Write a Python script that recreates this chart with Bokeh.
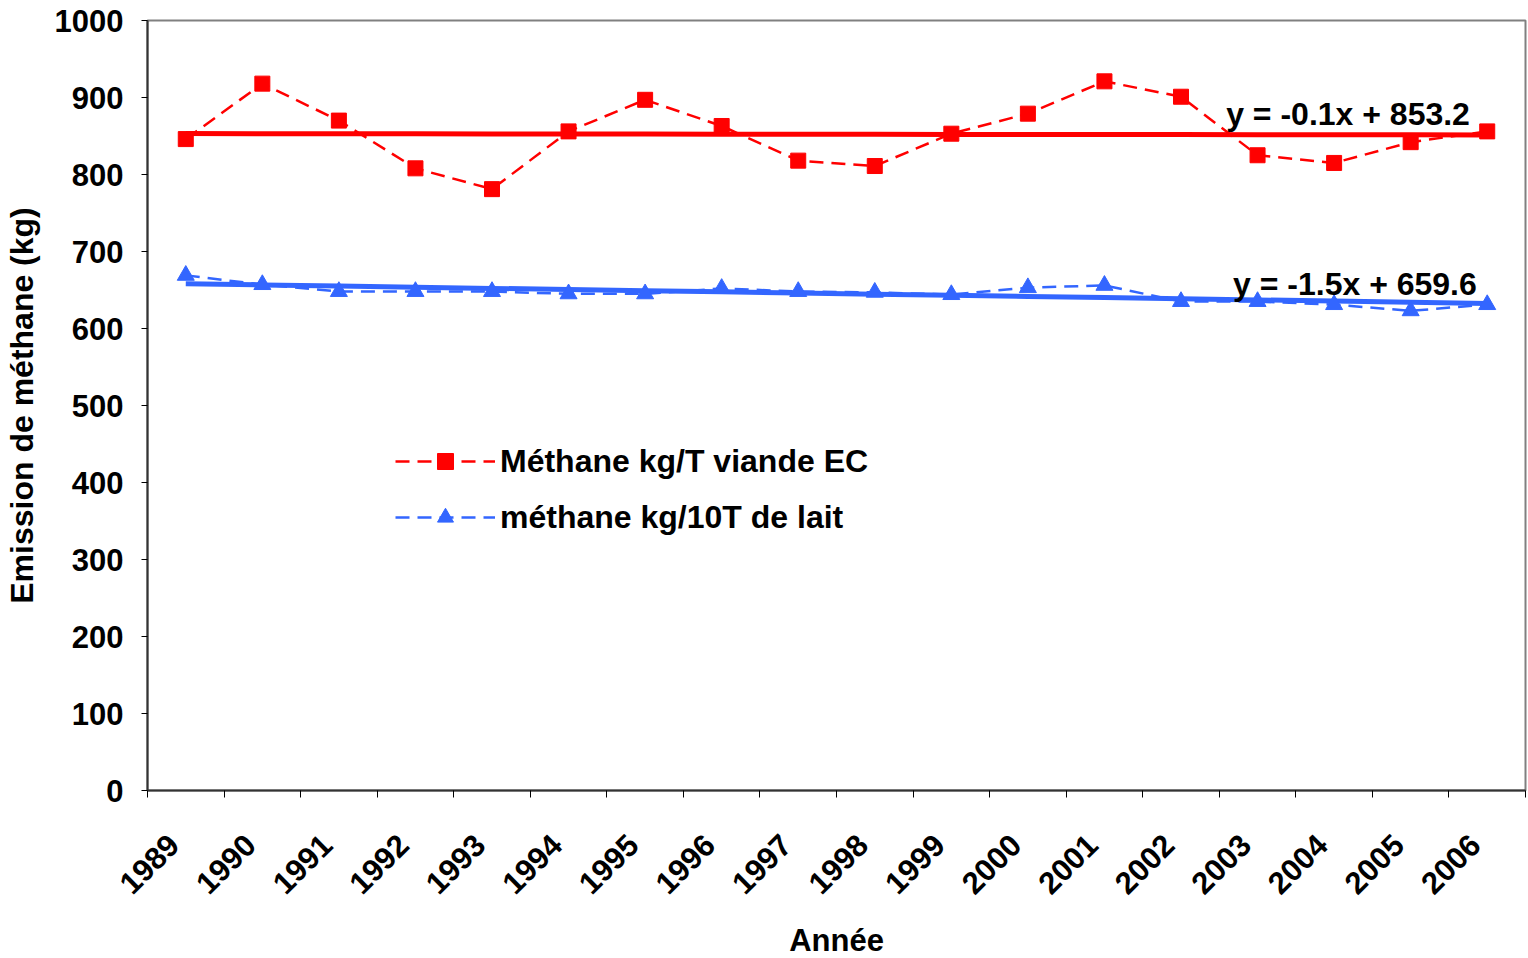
import math
from bokeh.plotting import figure
from bokeh.models import Range1d, FixedTicker, Legend, LegendItem
from bokeh.core.properties import value
from bokeh.embed import file_html
from bokeh.resources import INLINE

# ---- data ----
years = [str(y) for y in range(1989, 2007)]
viande = [846, 918, 870, 808, 781, 856, 897, 863, 818, 811, 853, 879, 921, 901, 825, 815, 842, 856]
lait = [669, 657, 648, 648, 648, 645, 645, 652, 648, 647, 644, 653, 656, 635, 635, 631, 623, 631]
trend_slope = [-0.1, -1.5]
trend_intercept = [853.2, 659.6]
trend_labels = ["y = -0.1x + 853.2", "y = -1.5x + 659.6"]
series_names = ["Méthane kg/T viande EC", "méthane kg/10T de lait"]
y_ticks = list(range(0, 1001, 100))

FONT = "Liberation Sans"
RED = "#FF0000"
BLUE = "#3366FF"

n = len(years)
xs = [i + 0.5 for i in range(n)]
label_pos = [i + 0.34 for i in range(n)]  # rotated label anchors (slightly left of centre)
trend_viande = [trend_slope[0] * (i + 1) + trend_intercept[0] for i in range(n)]
trend_lait = [trend_slope[1] * (i + 1) + trend_intercept[1] for i in range(n)]

p = figure(frame_width=1378, frame_height=770,
           min_border_left=147, min_border_right=3, min_border_top=20, min_border_bottom=168,
           x_range=Range1d(0, n), y_range=Range1d(0, 1000),
           output_backend="svg", toolbar_location=None)
p.background_fill_color = "white"
p.border_fill_color = "white"
p.outline_line_color = "#808080"
p.outline_line_width = 2
p.xgrid.visible = False
p.ygrid.visible = False

# data series
r_line = p.line(xs, viande, line_color=RED, line_width=2.5, line_dash="14 8")
b_line = p.line(xs, lait, line_color=BLUE, line_width=2.5, line_dash="14 8")
# trend lines
p.line(xs, trend_viande, line_color=RED, line_width=5)
p.line(xs, trend_lait, line_color=BLUE, line_width=5)
# markers
r_sc = p.scatter(xs, viande, marker="square", size=15, fill_color=RED, line_color=RED)
b_sc = p.scatter(xs, lait, marker="triangle", size=17, fill_color=BLUE, line_color=BLUE)

# trend equations
p.text(x=[14.09, 14.18], y=[879, 658], text=trend_labels,
       text_font=value(FONT), text_font_style="bold", text_font_size="32px",
       text_color="black", text_align="left", text_baseline="middle")

# axes
xa = p.xaxis[0]
xa.ticker = FixedTicker(ticks=label_pos, minor_ticks=list(range(n + 1)))
xa.major_label_overrides = {x: y for x, y in zip(label_pos, years)}
xa.major_label_orientation = math.pi / 4
xa.major_tick_out = 0
xa.major_tick_in = 0
xa.minor_tick_out = 7
xa.minor_tick_in = 0
xa.minor_tick_line_color = "black"
xa.minor_tick_line_width = 1
xa.major_label_standoff = 42
xa.axis_label = "Année"
xa.axis_label_standoff = 16

ya = p.yaxis[0]
ya.ticker = FixedTicker(ticks=y_ticks, minor_ticks=[])
ya.major_tick_out = 6
ya.major_tick_in = 0
ya.major_tick_line_color = "black"
ya.major_label_standoff = 18
ya.axis_label = "Emission de méthane (kg)"
ya.axis_label_standoff = 12

for ax in (xa, ya):
    ax.axis_line_color = "#333333"
    ax.axis_line_width = 2
    ax.major_label_text_font = FONT
    ax.major_label_text_font_style = "bold"
    ax.major_label_text_font_size = "31px"
    ax.major_label_text_color = "black"
    ax.axis_label_text_font = FONT
    ax.axis_label_text_font_style = "bold"
    ax.axis_label_text_color = "black"
xa.axis_label_text_font_size = "31px"
ya.axis_label_text_font_size = "32px"

legend = Legend(items=[
    LegendItem(label=series_names[0], renderers=[r_line, r_sc]),
    LegendItem(label=series_names[1], renderers=[b_line, b_sc]),
], location=(248, 253))
legend.background_fill_alpha = 0
legend.border_line_alpha = 0
legend.padding = 0
legend.margin = 0
legend.glyph_width = 100
legend.glyph_height = 40
legend.spacing = 16
legend.label_standoff = 5
legend.label_text_font = FONT
legend.label_text_font_style = "bold"
legend.label_text_font_size = "32px"
legend.label_text_color = "black"
p.add_layout(legend)

open("out.html", "w").write(file_html(p, INLINE))
